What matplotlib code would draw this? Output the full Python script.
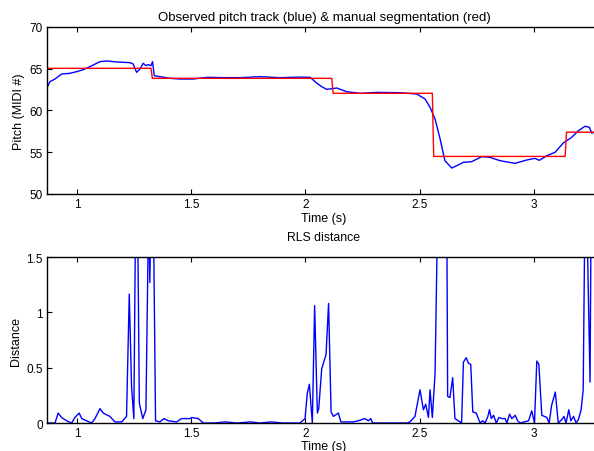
import matplotlib
matplotlib.use("Agg")
import matplotlib.pyplot as plt
import numpy as np

plt.rcParams['font.family'] = ['Liberation Sans', 'DejaVu Sans']

# observed pitch track (MIDI)
pitch_t = [0.860, 0.870, 0.882, 0.904, 0.933, 0.969, 0.999, 1.028, 1.057, 1.101,
           1.130, 1.174, 1.232, 1.246, 1.261, 1.276, 1.290, 1.302, 1.312, 1.324,
           1.331, 1.338, 1.363, 1.407, 1.451, 1.509, 1.568, 1.655, 1.714, 1.801,
           1.888, 1.976, 2.020, 2.049, 2.071, 2.093, 2.137, 2.180, 2.239, 2.312,
           2.414, 2.487, 2.523, 2.545, 2.567, 2.589, 2.610, 2.640, 2.662, 2.691,
           2.727, 2.771, 2.807, 2.851, 2.917, 2.968, 3.004, 3.023, 3.056, 3.092,
           3.128, 3.165, 3.194, 3.223, 3.242, 3.253, 3.262, 3.280]
pitch_v = [62.5, 62.78, 63.45, 63.77, 64.37, 64.45, 64.65, 64.89, 65.25, 65.85,
           65.93, 65.81, 65.73, 65.57, 64.57, 64.97, 65.65, 65.37, 65.49, 65.37,
           65.85, 64.17, 64.05, 63.85, 63.77, 63.77, 63.97, 63.93, 63.93, 64.05,
           63.93, 64.00, 63.97, 63.29, 62.85, 62.53, 62.69, 62.25, 62.05, 62.17,
           62.13, 61.97, 61.38, 60.38, 58.98, 56.59, 53.99, 53.11, 53.39, 53.79,
           53.87, 54.47, 54.39, 53.99, 53.67, 54.07, 54.27, 54.03, 54.59, 54.99,
           56.11, 56.79, 57.58, 58.11, 57.99, 57.27, 57.40, 57.45]

# manual segmentation
seg_start = [0.85, 1.324, 2.115, 2.555, 3.136]
seg_pitch = [65.05, 63.85, 62.06, 54.5, 57.4]
seg_end = 3.30

# RLS distance
dist_t = [0.860, 0.904, 0.918, 0.933, 0.955, 0.977, 0.991, 1.010, 1.021, 1.042,
          1.064, 1.079, 1.101, 1.115, 1.144, 1.166, 1.196, 1.217, 1.229, 1.239,
          1.249, 1.257, 1.265, 1.273, 1.288, 1.302, 1.314, 1.319, 1.324, 1.334,
          1.344, 1.363, 1.381, 1.400, 1.436, 1.458, 1.495, 1.502, 1.531, 1.553,
          1.600, 1.650, 1.700, 1.760, 1.800, 1.850, 1.900, 1.950, 1.976, 1.998,
          2.008, 2.017, 2.030, 2.040, 2.052, 2.058, 2.071, 2.090, 2.101, 2.112,
          2.122, 2.144, 2.155, 2.180, 2.209, 2.231, 2.260, 2.275, 2.285, 2.294,
          2.443, 2.457, 2.479, 2.501, 2.516, 2.526, 2.538, 2.545, 2.555, 2.567,
          2.579, 2.600, 2.618, 2.622, 2.632, 2.644, 2.654, 2.669, 2.683, 2.691,
          2.703, 2.713, 2.723, 2.732, 2.747, 2.764, 2.776, 2.786, 2.798, 2.805,
          2.813, 2.823, 2.835, 2.846, 2.859, 2.874, 2.881, 2.893, 2.903, 2.918,
          2.928, 2.940, 2.957, 2.976, 2.990, 3.002, 3.012, 3.021, 3.034, 3.056,
          3.066, 3.077, 3.093, 3.106, 3.121, 3.131, 3.140, 3.152, 3.161, 3.173,
          3.184, 3.194, 3.206, 3.215, 3.223, 3.230, 3.245, 3.250, 3.270]
dist_v = [0.0, 0.0, 0.09, 0.05, 0.02, 0.0, 0.05, 0.09, 0.04, 0.02,
          0.0, 0.04, 0.13, 0.09, 0.06, 0.01, 0.01, 0.06, 1.165, 0.33,
          0.04, 2.0, 2.0, 0.18, 0.04, 0.12, 2.0, 1.27, 2.0, 2.0,
          0.02, 0.01, 0.04, 0.02, 0.01, 0.04, 0.04, 0.05, 0.04, 0.0,
          0.0, 0.01, 0.0, 0.01, 0.0, 0.01, 0.0, 0.0, 0.0, 0.04,
          0.27, 0.35, 0.0, 1.06, 0.09, 0.13, 0.49, 0.62, 1.08, 0.10,
          0.06, 0.09, 0.01, 0.01, 0.01, 0.02, 0.04, 0.02, 0.04, 0.0,
          0.0, 0.01, 0.06, 0.30, 0.12, 0.17, 0.05, 0.30, 0.05, 0.45,
          2.0, 2.0, 2.0, 0.24, 0.23, 0.41, 0.04, 0.02, 0.0, 0.55,
          0.59, 0.54, 0.53, 0.10, 0.09, 0.0, 0.02, 0.0, 0.06, 0.12,
          0.04, 0.07, 0.0, 0.05, 0.04, 0.04, 0.0, 0.08, 0.04, 0.07,
          0.02, 0.0, 0.01, 0.02, 0.11, 0.0, 0.56, 0.53, 0.07, 0.05,
          0.0, 0.16, 0.28, 0.0, 0.03, 0.06, 0.0, 0.12, 0.02, 0.06,
          0.0, 0.03, 0.12, 0.30, 2.0, 2.0, 0.37, 2.0, 2.0]

# build the step line for the segmentation (short slanted transitions)
dt = 0.006
seg_x, seg_y = [seg_start[0]], [seg_pitch[0]]
for i in range(1, len(seg_start)):
    seg_x += [seg_start[i], seg_start[i] + dt]
    seg_y += [seg_pitch[i - 1], seg_pitch[i]]
seg_x.append(seg_end)
seg_y.append(seg_pitch[-1])

fig = plt.figure(figsize=(5.94, 4.52), dpi=100)
ax1 = fig.add_axes([0.0791, 0.5686, 0.9327, 0.3695])
ax2 = fig.add_axes([0.0791, 0.0619, 0.9327, 0.3673])

ax1.plot(pitch_t, pitch_v, color='#0000ff', lw=1.0)
ax1.plot(seg_x, seg_y, color='#ff0000', lw=1.0)
ax1.set_ylim(50, 70)
ax1.set_yticks([50, 55, 60, 65, 70])
ax1.set_title('Observed pitch track (blue) & manual segmentation (red)', fontsize=9.5, pad=5)
ax1.set_ylabel('Pitch (MIDI #)', fontsize=9, labelpad=3)
ax1.set_xlabel('Time (s)', fontsize=9, labelpad=1.5)

ax2.plot(dist_t, dist_v, color='#0000ff', lw=1.0)
ax2.set_ylim(0, 1.5)
ax2.set_yticks([0, 0.5, 1, 1.5])
ax2.set_yticklabels(['0', '0.5', '1', '1.5'])
ax2.set_title('RLS distance', fontsize=8.8, pad=12)
ax2.set_ylabel('Distance', fontsize=9, labelpad=3)
ax2.set_xlabel('Time (s)', fontsize=9, labelpad=0.5)

for ax in (ax1, ax2):
    ax.set_xlim(0.869, 3.293)
    ax.set_xticks([1, 1.5, 2, 2.5, 3])
    ax.set_xticklabels(['1', '1.5', '2', '2.5', '3'])
    ax.tick_params(direction='in', top=True, right=False, length=3.5, width=0.8,
                   labelsize=8.5, pad=3)
    for s in ax.spines.values():
        s.set_linewidth(1.0)
    ax.spines['right'].set_visible(False)

fig.savefig('out.png', dpi=100)
